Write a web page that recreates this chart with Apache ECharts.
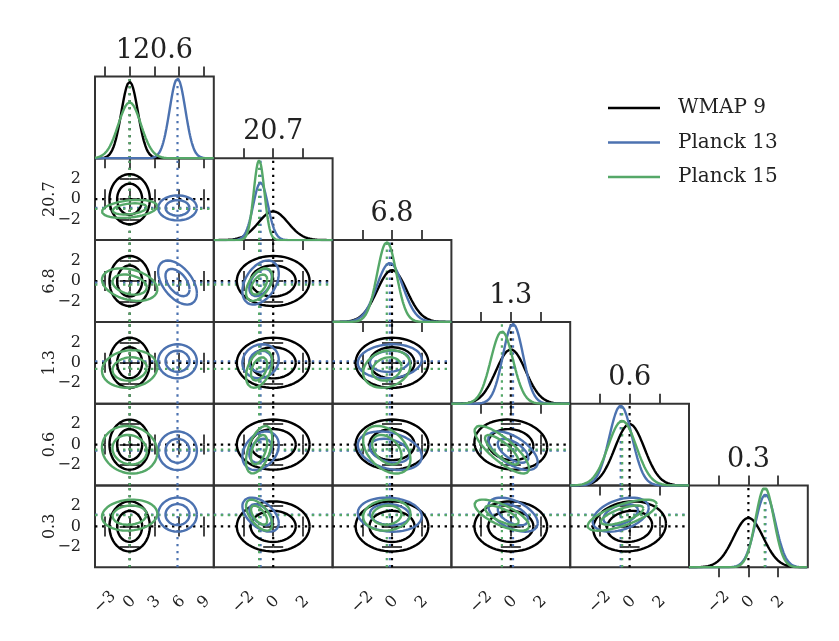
<!DOCTYPE html>
<html><head><meta charset="utf-8">
<script src="https://cdn.jsdelivr.net/npm/echarts@6/dist/echarts.min.js"></script>
<style>html,body{margin:0;padding:0;background:#fff}#c{width:839px;height:641px}</style>
</head><body><div id="c"></div>
<script>
// ---------- data (standardised units) ----------
const paramLabels = ['120.6', '20.7', '6.8', '1.3', '0.6', '0.3'];
const seriesNames = ['WMAP 9', 'Planck 13', 'Planck 15'];
const seriesColors = ['#000000', '#4C72B0', '#55A868'];
const meanWMAP  = [0, 0, 0, 0, 0, 0];
const meanP13   = [5.8, -0.85, -0.15, 0.15, -0.6, 1.15];
const meanP15   = [0, -0.95, -0.35, -0.6, -0.5, 1.1];
const sigmaWMAP = [1, 1, 1, 1, 1, 1];
const sigmaP13  = [0.96, 0.5, 0.88, 0.68, 0.77, 0.68];
const sigmaP15  = [1.37, 0.36, 0.65, 0.75, 0.95, 0.62];
// correlation of (row parameter, column parameter), lower triangle
const corrWMAP = [[], [0], [0, 0], [0, 0, 0], [0, 0, 0, -0.1], [0, 0, 0, 0, 0.1]];
const corrP13  = [[], [0], [-0.5, 0.4], [0, 0.1, 0.1], [0, 0.3, -0.3, -0.6], [0, -0.5, -0.1, -0.5, 0.4]];
const corrP15  = [[], [0.3], [-0.3, 0.5], [0.1, 0.4, 0.2], [-0.1, 0.5, -0.4, -0.8], [0.1, -0.6, 0.1, -0.7, 0.7]];
const xTicksFirst = [-3, 0, 3, 6, 9];
const xTicksOther = [-2, 0, 2];
const yTicks = [-2, 0, 2];
const contourRadii = [1.52, 2.45]; // 68% and 95% levels

// ---------- layout ----------
const chart = echarts.init(document.getElementById('c'), null, {renderer: 'canvas'});
const means = [meanWMAP, meanP13, meanP15];
const sigmas = [sigmaWMAP, sigmaP13, sigmaP15];
const corrs = [corrWMAP, corrP13, corrP15];
const N = 6, L0 = 95, T0 = 76.5, PW = 118.8, PH = 81.8;
const FONT = 'DejaVu Serif';
const grids = [], xAxes = [], yAxes = [], series = [], graphics = [];
const tickStyle = () => ({show: true, inside: false, length: 10, lineStyle: {color: '#333', width: 1.8}});
const xRange = c => c === 0 ? [-4.2, 10.2] : [-4, 4];
const xTicks = c => c === 0 ? xTicksFirst : xTicksOther;
const yRange = [-4, 4];
const minus = v => String(v).replace('-', '\u2212');
const dotted = [2.4, 4.6];
const LW = 2.4;

function gauss(x, m, s) { return Math.exp(-0.5 * ((x - m) / s) ** 2) / (s * Math.sqrt(2 * Math.PI)); }

for (let r = 0; r < N; r++) {
  for (let c = 0; c <= r; c++) {
    const gi = grids.length;
    grids.push({left: L0 + c * PW, top: T0 + r * PH, width: PW, height: PH, show: true,
      borderColor: '#333', borderWidth: 2, backgroundColor: 'transparent'});
    const [xmin, xmax] = xRange(c);
    const xb = xAxes.length;
    xAxes.push({gridIndex: gi, type: 'value', position: 'bottom', min: xmin, max: xmax,
      axisLine: {show: false}, splitLine: {show: false},
      axisTick: Object.assign(tickStyle(), {customValues: xTicks(c)}),
      axisLabel: {show: r === N - 1, customValues: xTicks(c), rotate: 45, align: 'center', verticalAlign: 'middle',
        showMinLabel: true, showMaxLabel: true, hideOverlap: false,
        margin: 35, fontFamily: FONT, fontSize: 16, color: '#222', formatter: minus}});
    xAxes.push({gridIndex: gi, type: 'value', position: 'top', min: xmin, max: xmax,
      axisLine: {show: false}, splitLine: {show: false},
      axisTick: Object.assign(tickStyle(), {customValues: xTicks(c)}),
      axisLabel: {show: false}});
    const yb = yAxes.length;
    if (r === c) {
      // diagonal: 1D marginals
      let peak = 0;
      for (let d = 0; d < 3; d++) peak = Math.max(peak, gauss(0, 0, sigmas[d][c]));
      const ymax = peak / 0.975;
      yAxes.push({gridIndex: gi, type: 'value', min: 0, max: ymax, show: false});
      for (let d = 0; d < 3; d++) {
        const m = means[d][c], s = sigmas[d][c];
        const pts = [];
        for (let i = 0; i <= 200; i++) { const x = xmin + (xmax - xmin) * i / 200; pts.push([x, gauss(x, m, s)]); }
        series.push({type: 'line', name: seriesNames[d], xAxisIndex: xb, yAxisIndex: yb, data: pts, showSymbol: false,
          lineStyle: {color: seriesColors[d], width: LW}, silent: true, z: 3});
      }
      for (let d = 0; d < 3; d++) {
        const m = means[d][c];
        series.push({type: 'line', xAxisIndex: xb, yAxisIndex: yb, data: [[m, 0], [m, ymax]], showSymbol: false,
          lineStyle: {color: seriesColors[d], width: 2.2, type: dotted}, silent: true, z: 2});
      }
      // title above diagonal
      graphics.push({type: 'text', x: L0 + c * PW + PW / 2, y: T0 + r * PH - 26,
        style: {text: paramLabels[c], font: '27px "DejaVu Serif"', fill: '#222', textAlign: 'center', textVerticalAlign: 'middle'}});
    } else {
      yAxes.push({gridIndex: gi, type: 'value', position: 'left', min: yRange[0], max: yRange[1],
        axisLine: {show: false}, splitLine: {show: false},
        axisTick: Object.assign(tickStyle(), {customValues: yTicks}),
        axisLabel: {show: c === 0, customValues: yTicks, showMinLabel: true, showMaxLabel: true,
          margin: 14, fontFamily: FONT, fontSize: 16, color: '#222', formatter: minus}});
      yAxes.push({gridIndex: gi, type: 'value', position: 'right', min: yRange[0], max: yRange[1],
        axisLine: {show: false}, splitLine: {show: false},
        axisTick: Object.assign(tickStyle(), {customValues: yTicks}),
        axisLabel: {show: false}});
      for (let d = 0; d < 3; d++) {
        const mx = means[d][c], my = means[d][r], sx = sigmas[d][c], sy = sigmas[d][r], rho = corrs[d][r][c];
        for (const rad of contourRadii) {
          const pts = [];
          for (let i = 0; i <= 120; i++) {
            const t = 2 * Math.PI * i / 120;
            pts.push([mx + sx * rad * Math.cos(t), my + sy * rad * (rho * Math.cos(t) + Math.sqrt(1 - rho * rho) * Math.sin(t))]);
          }
          series.push({type: 'line', name: seriesNames[d], xAxisIndex: xb, yAxisIndex: yb, data: pts, showSymbol: false,
            lineStyle: {color: seriesColors[d], width: LW}, silent: true, z: 3});
        }
      }
      for (let d = 0; d < 3; d++) {
        const mx = means[d][c], my = means[d][r];
        series.push({type: 'line', xAxisIndex: xb, yAxisIndex: yb, data: [[mx, yRange[0]], [mx, yRange[1]]], showSymbol: false,
          lineStyle: {color: seriesColors[d], width: 2.2, type: dotted}, silent: true, z: 2});
        series.push({type: 'line', xAxisIndex: xb, yAxisIndex: yb, data: [[xmin, my], [xmax, my]], showSymbol: false,
          lineStyle: {color: seriesColors[d], width: 2.2, type: dotted}, silent: true, z: 2});
      }
      if (c === 0) {
        graphics.push({type: 'text', x: 50, y: T0 + r * PH + PH / 2, rotation: Math.PI / 2,
          style: {text: paramLabels[r], font: '16px "DejaVu Serif"', fill: '#222', textAlign: 'center', textVerticalAlign: 'middle'}});
      }
    }
  }
}

// legend
for (let d = 0; d < 3; d++) {
  const y = 108 + d * 34.5;
  graphics.push({type: 'line', shape: {x1: 608, y1: y, x2: 660, y2: y}, style: {stroke: seriesColors[d], lineWidth: 2.4}});
  graphics.push({type: 'text', x: 678, y: y, style: {text: seriesNames[d], font: '20px "DejaVu Serif"', fill: '#222', textAlign: 'left', textVerticalAlign: 'middle'}});
}

chart.setOption({animation: false, backgroundColor: '#fff', grid: grids, xAxis: xAxes, yAxis: yAxes, series: series, graphic: graphics});
</script></body></html>
